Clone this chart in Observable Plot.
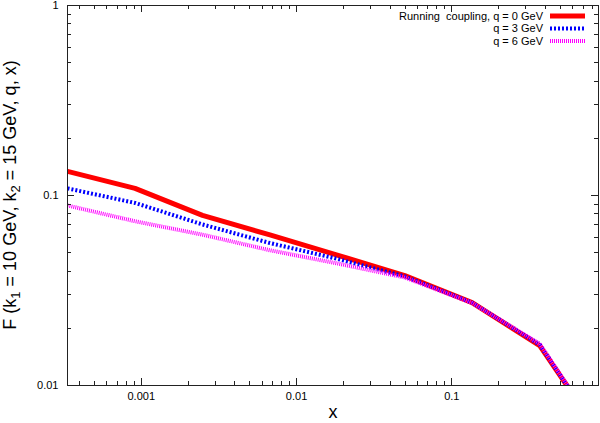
<!DOCTYPE html>
<html><head><meta charset="utf-8">
<script src="https://cdn.jsdelivr.net/npm/d3@7"></script>
<script src="https://cdn.jsdelivr.net/npm/@observablehq/plot@0.6"></script>
<style>body{margin:0;background:#fff} svg{display:block}</style>
</head><body><div id="chart"></div>
<script>
// x = e^-Y for Y = 8..1, 0.5
const xValues = [0.000335, 0.000912, 0.00248, 0.00674, 0.0183, 0.0498, 0.135, 0.368, 0.607];
const seriesNames = ["Running  coupling, q = 0 GeV", "q = 3 GeV", "q = 6 GeV"];
const q0 = [0.134, 0.109, 0.0786, 0.0620, 0.0486, 0.0379, 0.0273, 0.0162, 0.0089];
const q3 = [0.109, 0.0914, 0.0704, 0.0562, 0.0464, 0.0375, 0.0273, 0.0164, 0.0089];
const q6 = [0.0886, 0.0732, 0.0622, 0.0515, 0.0439, 0.0370, 0.0272, 0.0166, 0.0090];
const xDomain = [0.000335, 0.88];
const yDomain = [0.01, 1];
const xMajor = [0.001, 0.01, 0.1];
const xMinor = [0.0004,0.0005,0.0006,0.0007,0.0008,0.0009,
  0.002,0.003,0.004,0.005,0.006,0.007,0.008,0.009,
  0.02,0.03,0.04,0.05,0.06,0.07,0.08,0.09,
  0.2,0.3,0.4,0.5,0.6,0.7,0.8];
const yMajor = [0.01, 0.1, 1];
const yMinor = [0.02,0.03,0.04,0.05,0.06,0.07,0.08,0.09,0.2,0.3,0.4,0.5,0.6,0.7,0.8,0.9];
const xTitle = "x";

const colors = ["#ff0000", "#0000ff", "#ff00ff"];
const dashes = [null, "2,2", "1,1"];
const widths = [5, 4, 4];
const series = [q0, q3, q6].map((vals, i) => xValues.map((x, j) => ({x, F: vals[j], series: seriesNames[i]})));

(function () {
const axisColor = "#222";
const W = 600, H = 423, mL = 67, mR = 2, mT = 5, mB = 38;
const chart = Plot.plot({
  width: W, height: H,
  marginLeft: mL, marginRight: mR, marginTop: mT, marginBottom: mB,
  style: {fontFamily: "'Liberation Sans', Arial, sans-serif", fontSize: "11px", color: "#000", background: "#fff"},
  x: {type: "log", domain: xDomain},
  y: {type: "log", domain: yDomain},
  marks: [
    Plot.axisX({ticks: xMajor, tickSize: 0, tickPadding: 7, tickFormat: d => String(d), label: null}),
    Plot.axisY({ticks: yMajor, tickSize: 0, tickPadding: 9, tickFormat: d => String(d), label: null}),
    ...series.map((data, i) => Plot.line(data, {x: "x", y: "F", stroke: colors[i], strokeWidth: widths[i], strokeDasharray: dashes[i], strokeLinejoin: "miter", strokeLinecap: "butt", clip: true})),
    Plot.frame({stroke: axisColor})
  ]
});
document.getElementById("chart").appendChild(chart);

const svg = d3.select(chart);
// same scales as Plot's (log, domain → frame range)
const fx = d3.scaleLog().domain(xDomain).range([mL, W - mR]);
const fy = d3.scaleLog().domain(yDomain).range([H - mB, mT]);
const xL = mL, xR = W - mR, yB = H - mB, yT = mT;
const tg = svg.append("g");
function seg(x1, y1, x2, y2) {
  tg.append("path").attr("d", `M${x1},${y1}L${x2},${y2}`)
    .attr("stroke", axisColor).attr("stroke-width", 1).attr("fill", "none");
}
function xt(vals, len) {
  vals.forEach(v => {
    const X = Math.round(fx(v)) + 0.5;
    seg(X, yB, X, yB - len);
    seg(X, yT, X, yT + len);
  });
}
function ytk(vals, len) {
  vals.forEach(v => {
    const Y = Math.round(fy(v)) + 0.5;
    seg(xL, Y, xL + len, Y);
    seg(xR, Y, xR - len, Y);
  });
}
xt(xMajor, 7); xt(xMinor, 4); ytk(yMajor, 7); ytk(yMinor, 4);

// y title with subscripts
const ytitle = svg.append("text")
  .attr("transform", "translate(16,195) rotate(-90)")
  .attr("text-anchor", "middle")
  .attr("font-size", 18)
  .attr("fill", "#000");
const parts = [["F (k", false], ["1", true], [" = 10 GeV, k", false], ["2", true], [" = 15 GeV, q, x)", false]];
parts.forEach(([t, sub]) => {
  const ts = ytitle.append("tspan").text(t);
  if (sub) ts.attr("baseline-shift", "-30%").attr("font-size", 13);
});
// x title
svg.append("text").attr("x", 333).attr("y", 418).attr("text-anchor", "middle")
  .attr("font-size", 18).attr("fill", "#000").text(xTitle);
// legend
const rowsY = [16, 28.5, 41];
seriesNames.forEach((name, i) => {
  svg.append("text").attr("x", 543).attr("y", rowsY[i]).attr("dy", "0.35em")
    .attr("text-anchor", "end").attr("font-size", 11).attr("fill", "#000").text(name);
  const ln = svg.append("line").attr("x1", 550).attr("x2", 585).attr("y1", rowsY[i]).attr("y2", rowsY[i])
    .attr("stroke", colors[i]).attr("stroke-width", widths[i]);
  if (dashes[i]) ln.attr("stroke-dasharray", dashes[i]);
});
})();
</script>
</body></html>
